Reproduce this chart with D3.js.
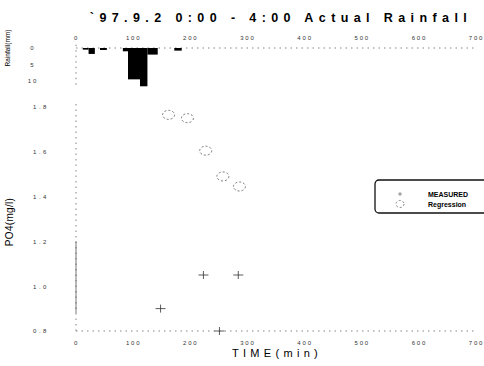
<!doctype html>
<html lang="en">
<head>
<meta charset="utf-8">
<title>Actual Rainfall</title>
<script src="https://cdn.jsdelivr.net/npm/d3@7"></script>
<style>
  body { margin: 0; background: #fff; }
  svg { font-family: "Liberation Sans", Arial, sans-serif; }
  .tick text { fill: #333; }
</style>
</head>
<body>
<svg id="chart" width="484" height="366"></svg>
<script>
// time ticks (min)
var timeTicks = [0, 100, 200, 300, 400, 500, 600, 700];
var rainTicks = [0, 5, 10];
var po4Ticks = [0.8, 1.0, 1.2, 1.4, 1.6, 1.8];

// rainfall blocks (start min, end min, mm)
var rainStart = [12, 22, 42, 82, 91, 112, 125, 172];
var rainEnd = [22, 33, 54, 91, 112, 125, 143, 185];
var rainMm = [0.5, 1.8, 0.6, 1.0, 9.5, 11.6, 2.0, 0.8];

// measured PO4
var measTime = [148, 223, 251, 284];
var measPo4 = [0.90, 1.05, 0.80, 1.05];

// regression PO4
var regTime = [162, 195, 227, 257, 286];
var regPo4 = [1.765, 1.75, 1.605, 1.49, 1.445];

var svg = d3.select("#chart");
var x = d3.scaleLinear().domain([0, 700]).range([76, 476]);
var yRain = d3.scaleLinear().domain([0, 10]).range([48, 81]);
var y = d3.scaleLinear().domain([0.8, 1.8]).range([331, 107]);

// title
svg.append("text").attr("x", 281).attr("y", 22).attr("text-anchor", "middle")
  .style("font-size", "12.5px").style("font-weight", "bold").style("letter-spacing", "5.4px")
  .text("`97.9.2 0:00 - 4:00 Actual Rainfall");

// top time axis
var topAx = svg.append("g").attr("transform", "translate(0,40)")
  .call(d3.axisTop(x).tickValues(timeTicks).tickSize(0).tickPadding(0));
topAx.select(".domain").remove();
topAx.selectAll("text").style("font-size", "6px").style("letter-spacing", "1.8px");

// bottom time axis
var botAx = svg.append("g").attr("transform", "translate(0,341)")
  .call(d3.axisBottom(x).tickValues(timeTicks).tickSize(0).tickPadding(0));
botAx.select(".domain").remove();
botAx.selectAll("text").style("font-size", "6px").style("letter-spacing", "1.8px");

// rainfall axis
var rAx = svg.append("g").attr("transform", "translate(33,0)")
  .call(d3.axisLeft(yRain).tickValues(rainTicks).tickSize(0).tickPadding(0));
rAx.select(".domain").remove();
rAx.selectAll("text").style("font-size", "6px").style("letter-spacing", "2px").attr("text-anchor", "middle");

// po4 axis
var pAx = svg.append("g").attr("transform", "translate(41,0)")
  .call(d3.axisLeft(y).tickValues(po4Ticks).tickFormat(d3.format(".1f")).tickSize(0).tickPadding(0));
pAx.select(".domain").remove();
pAx.selectAll("text").style("font-size", "6px").style("letter-spacing", "2.5px").attr("text-anchor", "middle");

// dotted frame lines
var dot = { stroke: "#666", "stroke-width": 0.8, "stroke-dasharray": "1.5,4" };
function line(x1, y1, x2, y2, st) {
  var l = svg.append("line").attr("x1", x1).attr("y1", y1).attr("x2", x2).attr("y2", y2);
  for (var k in st) l.attr(k, st[k]);
  return l;
}
line(x(0), yRain(0), x(700), yRain(0), dot);
line(x(0), yRain(-1), x(0), yRain(10) + 6, dot);
line(x(0), y(1.8) - 3, x(0), y(0.8), dot);
line(x(0), y(0.8), x(700), y(0.8), dot);
line(x(0), y(1.2), x(0), y(0.88), { stroke: "#555", "stroke-width": 0.8 });

// rainfall bars (hang downward from zero line)
svg.append("g").selectAll("rect").data(rainMm).join("rect")
  .attr("x", function (d, i) { return x(rainStart[i]); })
  .attr("width", function (d, i) { return x(rainEnd[i]) - x(rainStart[i]); })
  .attr("y", yRain(0))
  .attr("height", function (d) { return yRain(d) - yRain(0); })
  .attr("fill", "#000");

// measured crosses
svg.append("g").selectAll("path").data(measPo4).join("path")
  .attr("transform", function (d, i) { return "translate(" + x(measTime[i]) + "," + y(d) + ")"; })
  .attr("d", "M-5,0H5M0,-4V4")
  .attr("stroke", "#333").attr("stroke-width", 0.8).attr("fill", "none");

// regression dashed circles
svg.append("g").selectAll("ellipse").data(regPo4).join("ellipse")
  .attr("cx", function (d, i) { return x(regTime[i]); })
  .attr("cy", function (d) { return y(d); })
  .attr("rx", 6).attr("ry", 4.5)
  .attr("fill", "none").attr("stroke", "#666").attr("stroke-width", 0.9)
  .attr("stroke-dasharray", "2,2");

// axis titles
svg.append("text").attr("transform", "translate(10,48) rotate(-90)").attr("text-anchor", "middle")
  .style("font-size", "6.5px").text("Rainfall(mm)");
svg.append("text").attr("transform", "translate(13,222) rotate(-90)").attr("text-anchor", "middle")
  .style("font-size", "10px").style("letter-spacing", "0.3px").text("PO4(mg/l)");
svg.append("text").attr("x", 277).attr("y", 357).attr("text-anchor", "middle")
  .style("font-size", "11px").style("letter-spacing", "4.3px").text("TIME(min)");

// legend
var lg = svg.append("g");
lg.append("rect").attr("x", 375).attr("y", 180).attr("width", 130).attr("height", 33).attr("rx", 4)
  .attr("fill", "#fff").attr("stroke", "#111").attr("stroke-width", 1.3);
lg.append("path").attr("d", "M398,194H402M400,192V196").attr("stroke", "#777").attr("stroke-width", 0.8);
lg.append("ellipse").attr("cx", 400).attr("cy", 204).attr("rx", 4).attr("ry", 3.5)
  .attr("fill", "none").attr("stroke", "#666").attr("stroke-width", 0.8).attr("stroke-dasharray", "2,2");
lg.append("text").attr("x", 428).attr("y", 197).style("font-size", "7px").style("font-weight", "bold").text("MEASURED");
lg.append("text").attr("x", 428).attr("y", 207).style("font-size", "7px").style("font-weight", "bold").text("Regression");
</script>
</body>
</html>
